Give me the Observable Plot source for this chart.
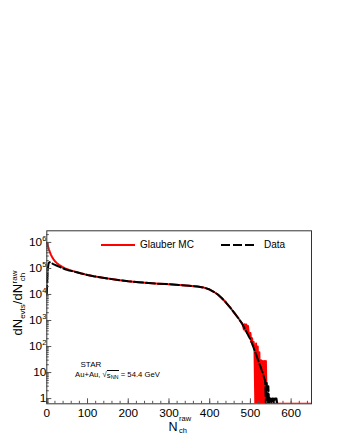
<!DOCTYPE html>
<html><head><meta charset="utf-8">
<script src="https://cdn.jsdelivr.net/npm/d3@7"></script>
<script src="https://cdn.jsdelivr.net/npm/@observablehq/plot@0.6"></script>
<style>
body{margin:0;background:#fff;}
#wrap{position:relative;width:340px;height:440px;font-family:"Liberation Sans",Arial,Helvetica,sans-serif;color:#000;}
#wrap svg{position:absolute;left:0;top:0;}
.ov{position:absolute;white-space:nowrap;line-height:1;}
.stack{display:inline-flex;flex-direction:column;vertical-align:middle;line-height:0.95;}
</style></head><body><div id="wrap"></div>
<script>
// ---- data ----
const glauberNch = [0,1,2,3,4,5,6,8,10,13,16,20,25,30,38,45,55,65,75,85,100,115,130,150,175,200,225,250,275,300,325,350,370,386,400,410,420,430,440,450,460,470,480,
  482,484,486,488,490,492,494,496,498,500,502,504,506,508,510,512,514,516,518,520,522,524,526,528,530,532,534,536,538,540,542,550,560,580,600,620,650];
const glauberCounts = [9.5e5,9.0e5,8.2e5,7.2e5,6.3e5,5.5e5,4.9e5,4.1e5,3.4e5,2.75e5,2.3e5,1.9e5,1.6e5,1.38e5,1.15e5,1.0e5,8.8e4,7.9e4,7.1e4,6.4e4,5.6e4,5.0e4,4.6e4,4.1e4,3.6e4,3.2e4,2.95e4,2.75e4,2.6e4,2.48e4,2.33e4,2.17e4,2.02e4,1.84e4,1.55e4,1.27e4,1.0e4,7.2e3,4.9e3,3.2e3,2.0e3,1.25e3,760,
  620,450,720,400,700,330,620,300,260,330,150,210,110,150,75,0,130,0,100,0,60,0,30,0,28,0,28,0,28,0,0,0,0,0,0,0,0];
const dataNch = [0,1,2,3,4,5,6,8,10,13,16,20,25,30,38,45,55,65,75,85,100,115,130,150,175,200,225,250,275,300,325,350,370,386,400,410,420,430,440,450,460,470,480,
  482,484,486,488,490,492,494,496,498,500,502,504,506,508,510,512,514,516,518,520,522,524,526,528,530,532,534,536,538,540,542,544,546,548,550,552,554,556,558,560,562,564,566];
const dataCounts = [1.0e4,3.0e4,6.5e4,1.1e5,1.45e5,1.65e5,1.72e5,1.72e5,1.66e5,1.57e5,1.48e5,1.38e5,1.27e5,1.17e5,1.02e5,9.3e4,8.4e4,7.7e4,7.0e4,6.4e4,5.6e4,5.0e4,4.6e4,4.1e4,3.6e4,3.2e4,2.95e4,2.75e4,2.6e4,2.48e4,2.33e4,2.17e4,2.02e4,1.84e4,1.55e4,1.27e4,1.0e4,7.2e3,4.9e3,3.2e3,2.0e3,1.25e3,740,
  640,560,490,430,370,320,280,245,215,190,160,130,108,88,72,60,50,40,33,27,22,18,15,12,10,8,6,5,0,4,0,3,0,1,1,0,1,1,0,1,1,1,0];
const xMajorTicks = [0,100,200,300,400,500,600];
const xMinorTicks = [0,20,40,60,80,100,120,140,160,180,200,220,240,260,280,300,320,340,360,380,400,420,440,460,480,500,520,540,560,580,600,620,640];
const yMajorTicks = [1,10,100,1e3,1e4,1e5,1e6];
const yTickExponents = [0,1,2,3,4,5,6];
const yMinorMultipliers = [2,3,4,5,6,7,8,9];
const legendLabels = ["Glauber MC","Data"];

// ---- build ----
const yMin = 0.63, yMax = 2.8e6;
const glauber = glauberNch.map((x,i)=>({x, y: Math.max(glauberCounts[i], yMin)}));
const data = dataNch.map((x,i)=>({x, y: Math.max(dataCounts[i], yMin)}));
const yMinorTicks = [0.7,0.8,0.9];
[1,10,100,1e3,1e4,1e5,1e6].forEach(d=>yMinorMultipliers.forEach(m=>{ if (d*m < yMax) yMinorTicks.push(d*m); }));
const expOf = new Map(yMajorTicks.map((v,i)=>[v, yTickExponents[i]]));

const chart = Plot.plot({
  width: 340, height: 440,
  marginLeft: 46.3, marginRight: 29, marginTop: 230.3, marginBottom: 36.7,
  style: {fontFamily: '"Liberation Sans",Arial,Helvetica,sans-serif', fontSize: "11.8px", color: "#000", background: "transparent"},
  x: {domain: [0, 650], label: null},
  y: {type: "log", domain: [yMin, yMax], label: null},
  marks: [
    Plot.line(glauber, {x: "x", y: "y", stroke: "#ff0000", strokeWidth: 2, clip: true}),
    Plot.line(data, {x: "x", y: "y", stroke: "#000", strokeWidth: 2, strokeDasharray: "9,3", clip: true}),
    Plot.axisX(xMinorTicks, {tickSize: -2.5, tickFormat: () => "", stroke: "#555", label: null}),
    Plot.axisX(xMajorTicks, {tickSize: -5, tickPadding: 10, tickFormat: d => String(d), stroke: "#555", label: null}),
    Plot.axisY(yMinorTicks, {tickSize: -2.5, tickFormat: () => "", stroke: "#555", label: null}),
    Plot.axisY(yMajorTicks, {tickSize: -5, tickPadding: 5.5, stroke: "#555", label: null,
      tickFormat: d => { const e = expOf.get(d); return e === 0 ? "1" : e === 1 ? "10" : "10^" + e; }}),
    Plot.frame({stroke: "#333"})
  ]
});
const wrap = document.getElementById("wrap");
wrap.appendChild(chart);

// superscripts on the log-axis labels
d3.select(chart).selectAll("text").each(function(){
  const t = this.textContent; const m = /^10\^(\d)$/.exec(t);
  if (m) {
    const sel = d3.select(this); sel.text("10");
    sel.append("tspan").attr("dy", "-5").attr("font-size", "7.5px").text(m[1]);
  }
});

// legend lines
const leg = d3.select(wrap).append("svg").attr("width", 340).attr("height", 440).style("pointer-events","none");
leg.append("line").attr("x1",101).attr("x2",135).attr("y1",245).attr("y2",245).attr("stroke","#ff0000").attr("stroke-width",2);
leg.append("line").attr("x1",221).attr("x2",257).attr("y1",245).attr("y2",245).attr("stroke","#000").attr("stroke-width",2).attr("stroke-dasharray","9,3");

function ov(html, left, top, size){
  const d = document.createElement("div"); d.className = "ov";
  d.style.left = left + "px"; d.style.top = top + "px"; d.style.fontSize = size + "px";
  d.innerHTML = html; wrap.appendChild(d); return d;
}
ov(legendLabels[0], 140, 240, 10);
ov(legendLabels[1], 264, 240, 10);
ov("STAR", 80.5, 361, 8);
ov('Au+Au, √<span style="display:inline-block;border-top:0.8px solid #000;line-height:8px;padding-top:0.3px">s<span style="font-size:5.5px;position:relative;top:1.5px">NN</span></span> = 54.4 GeV', 75, 370.3, 7.7);
// x title
ov('N', 168.5, 420.5, 12.5);
ov('raw', 179, 415, 7.5);
ov('ch', 179, 427, 7.5);
// y title (rotated)
const yl = ov('dN<sub style="font-size:8px;vertical-align:-3px">evts</sub>/dN<span class="stack" style="font-size:8px;margin-left:0.5px"><span>raw</span><span>ch</span></span>', 0, 0, 13);
yl.style.width = "100px"; yl.style.height = "20px"; yl.style.lineHeight = "20px"; yl.style.textAlign = "center";
yl.style.left = (18 - 50) + "px"; yl.style.top = (303 - 10) + "px";
yl.style.transform = "rotate(-90deg)";
</script></body></html>
